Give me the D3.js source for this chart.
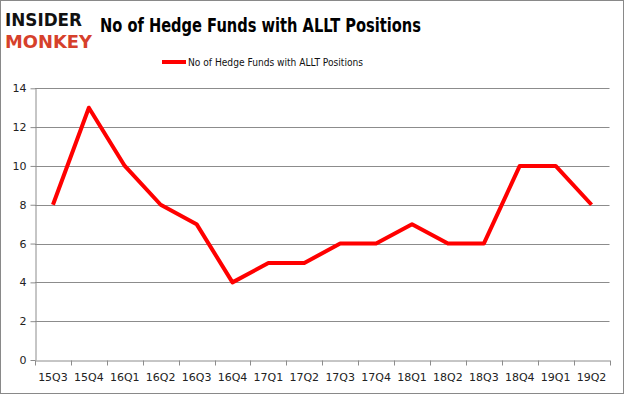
<!DOCTYPE html>
<html>
<head>
<meta charset="utf-8">
<script src="https://cdn.jsdelivr.net/npm/d3@7"></script>
<style>
  body { margin: 0; background: #fff; }
  svg text { font-family: "DejaVu Sans", Verdana, sans-serif; }
</style>
</head>
<body>
<div id="chart"></div>
<script>
const width = 625,
      height = 395;

// chart data
const quarters = ['15Q3', '15Q4', '16Q1', '16Q2', '16Q3', '16Q4', '17Q1', '17Q2',
                  '17Q3', '17Q4', '18Q1', '18Q2', '18Q3', '18Q4', '19Q1', '19Q2'];
const fundCounts = [8, 13, 10, 8, 7, 4, 5, 5, 6, 6, 7, 6, 6, 10, 10, 8];
const yTicks = [0, 2, 4, 6, 8, 10, 12, 14];
const seriesName = 'No of Hedge Funds with ALLT Positions';
const chartTitle = 'No of Hedge Funds with ALLT Positions';

const plot = {left: 35, right: 609.5, top: 88.3, bottom: 360};

const svg = d3.select('#chart').append('svg')
  .attr('width', width)
  .attr('height', height);

// outer frame
svg.append('rect')
  .attr('x', 0.5).attr('y', 0.5)
  .attr('width', width - 2).attr('height', height - 2)
  .attr('fill', '#fff')
  .attr('stroke', '#898989');

// logo
svg.append('text')
  .attr('x', 5).attr('y', 26)
  .attr('font-size', 17).attr('font-weight', 'bold')
  .attr('textLength', 77).attr('lengthAdjust', 'spacingAndGlyphs')
  .attr('fill', '#111')
  .text('INSIDER');
svg.append('text')
  .attr('x', 5).attr('y', 48)
  .attr('font-size', 17).attr('font-weight', 'bold')
  .attr('textLength', 87).attr('lengthAdjust', 'spacingAndGlyphs')
  .attr('fill', '#d6402b')
  .text('MONKEY');

// title
svg.append('text')
  .attr('x', 100).attr('y', 32)
  .attr('font-family', '"Open Sans", sans-serif')
  .attr('font-size', 20).attr('font-weight', 'bold')
  .attr('textLength', 321).attr('lengthAdjust', 'spacingAndGlyphs')
  .attr('fill', '#000')
  .text(chartTitle);

const x = d3.scaleBand()
  .domain(quarters)
  .range([plot.left, plot.right]);

const y = d3.scaleLinear()
  .domain([0, 14])
  .range([plot.bottom, plot.top]);

// gridlines
svg.append('g')
  .selectAll('line')
  .data(yTicks.filter(t => t > 0))
  .join('line')
  .attr('x1', plot.left).attr('x2', plot.right)
  .attr('y1', d => Math.round(y(d)) + 0.5)
  .attr('y2', d => Math.round(y(d)) + 0.5)
  .attr('stroke', '#8c8c8c');

// y axis
const yAxis = svg.append('g')
  .attr('transform', `translate(${Math.round(plot.left) + 0.5},0)`)
  .call(d3.axisLeft(y).tickValues(yTicks).tickSize(5).tickPadding(4).tickSizeOuter(0));
yAxis.select('.domain').attr('stroke', '#8c8c8c');
yAxis.selectAll('.tick line').attr('stroke', '#8c8c8c');
yAxis.selectAll('.tick text')
  .attr('font-size', 11).attr('fill', '#222')
  .attr('font-family', '"DejaVu Sans", Verdana, sans-serif');

// x axis
const xAxis = svg.append('g')
  .attr('transform', `translate(0,${Math.round(plot.bottom) + 0.5})`)
  .call(d3.axisBottom(x).tickSize(0).tickPadding(13));
xAxis.select('.domain').attr('stroke', '#8c8c8c');
xAxis.selectAll('.tick text')
  .attr('font-size', 11).attr('fill', '#222')
  .attr('font-family', '"DejaVu Sans", Verdana, sans-serif');
// boundary tick marks between categories
xAxis.append('g')
  .selectAll('line')
  .data(quarters.concat(['end']))
  .join('line')
  .attr('x1', (d, i) => Math.round(plot.left + i * x.step()) + 0.5)
  .attr('x2', (d, i) => Math.round(plot.left + i * x.step()) + 0.5)
  .attr('y1', 0).attr('y2', 5)
  .attr('stroke', '#8c8c8c');

// series line
const line = d3.line()
  .x((d, i) => x(quarters[i]) + x.bandwidth() / 2)
  .y(d => y(d));

svg.append('path')
  .datum(fundCounts)
  .attr('d', line)
  .attr('fill', 'none')
  .attr('stroke', '#ff0000')
  .attr('stroke-width', 4)
  .attr('stroke-linejoin', 'round');

// legend
svg.append('line')
  .attr('x1', 162).attr('x2', 186)
  .attr('y1', 62).attr('y2', 62)
  .attr('stroke', '#ff0000')
  .attr('stroke-width', 4);
svg.append('text')
  .attr('x', 188).attr('y', 66)
  .attr('font-family', '"Open Sans", sans-serif')
  .attr('font-size', 11)
  .attr('textLength', 175).attr('lengthAdjust', 'spacingAndGlyphs')
  .attr('fill', '#111')
  .text(seriesName);
</script>
</body>
</html>
